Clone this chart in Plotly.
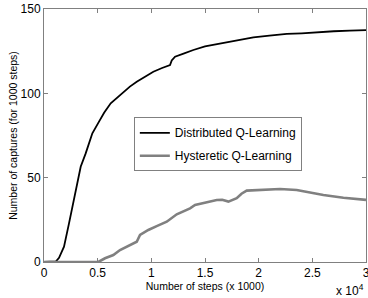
import plotly.graph_objects as go

# Distributed Q-Learning (steps, captures per 1000 steps)
dist_x = [0, 500, 1000, 1100, 1400, 1864, 2330, 2796, 3107, 3418, 3884, 4505, 5125,
          5600, 6214, 6800, 7456, 8000, 8639, 9300, 10186, 11000, 11743, 11900, 12209,
          13000, 13914, 15000, 16402, 18000, 19506, 21000, 22619, 24000, 25722, 27000,
          28500, 30000]
dist_y = [0, 0, 0, 0.3, 2.5, 9.1, 22.9, 36.7, 46.6, 56.5, 64.4, 76.3, 83.2,
          88.5, 94.1, 97.5, 101, 104, 106.9, 109.5, 112.8, 115, 116.8, 119.5, 121.7,
          123.5, 125.7, 127.8, 129.6, 131.5, 133.2, 134.2, 135.2, 135.6, 136.5, 136.8,
          137.2, 137.5]

# Hysteretic Q-Learning
hyst_x = [0, 5060, 5685, 6460, 7083, 7700, 8322, 8639, 8947, 9720, 10500, 11435,
          12367, 13000, 13607, 14072, 15000, 16095, 16600, 17180, 17955, 18400, 18887,
          20000, 21990, 23543, 24800, 26030, 27895, 30000]
hyst_y = [0, 0, 2.2, 4.1, 7.1, 9.2, 11.1, 12, 16, 19, 21.3, 23.9,
          28.3, 30.2, 31.8, 33.8, 35.3, 36.8, 36.9, 35.8, 37.8, 40.5, 42.3,
          42.6, 43.3, 42.7, 41.2, 39.7, 38.1, 36.8]

x_ticks = [0, 5000, 10000, 15000, 20000, 25000, 30000]
x_tick_labels = ["0", "0.5", "1", "1.5", "2", "2.5", "3"]
y_ticks = [0, 50, 100, 150]

fig = go.Figure()
fig.add_trace(go.Scatter(x=dist_x, y=dist_y, mode="lines", name="Distributed Q-Learning",
                         line=dict(color="black", width=1.8), legendgroup="a"))
fig.add_trace(go.Scatter(x=hyst_x, y=hyst_y, mode="lines", name="Hysteretic Q-Learning",
                         line=dict(color="#808080", width=2.6), legendgroup="b"))

axis_common = dict(showgrid=False, zeroline=False, showline=True, linecolor="#808080",
                   linewidth=1, mirror="ticks", ticks="inside", ticklen=4,
                   tickcolor="#808080", tickfont=dict(size=12, color="black"),
                   automargin=False, ticklabeloverflow="allow")

fig.update_layout(
    width=368, height=298,
    margin=dict(l=44, r=2, t=9, b=36),
    paper_bgcolor="white", plot_bgcolor="white",
    font=dict(family="Liberation Sans, Arial, sans-serif", color="black"),
    xaxis=dict(range=[0, 30000], tickvals=x_ticks, ticktext=x_tick_labels,
               title=dict(text="Number of steps (x 1000)", font=dict(size=10.5), standoff=0),
               **axis_common),
    yaxis=dict(range=[0, 150], tickvals=y_ticks,
               title=dict(text="Number of captures (for 1000 steps)", font=dict(size=10.5), standoff=0),
               **axis_common),
    legend=dict(x=0.279, y=0.572, xanchor="left", yanchor="top",
                bordercolor="#808080", borderwidth=1, bgcolor="white",
                font=dict(size=12), tracegroupgap=4, itemwidth=30),
    showlegend=True,
)
fig.add_annotation(x=1.0, y=-0.07, xref="paper", yref="paper", xanchor="right", yanchor="top",
                   text="x 10<sup>4</sup>", showarrow=False, font=dict(size=12))

fig.write_html("out.html", config={"displayModeBar": False},
               post_script="document.body.style.margin='0';document.body.style.overflow='hidden';")
